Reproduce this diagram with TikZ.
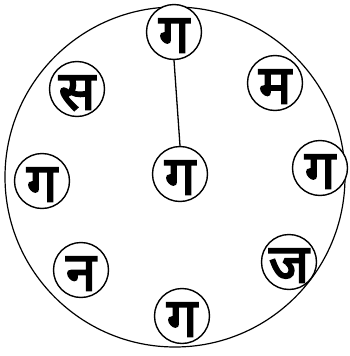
\documentclass[tikz,border=0pt]{standalone}
\usepackage{fontspec}
\newfontfamily\deva[Script=Devanagari,FakeBold=3.5]{Noto Sans}
\newcommand{\dv}[1]{\smash{\raisebox{-0.38em}{#1}}}
\tikzset{
  letter/.style={circle, draw, line width=1.4pt, minimum size=55pt, inner sep=0pt, font=\deva\fontsize{54}{54}\selectfont, fill=white},
}
\begin{document}
\begin{tikzpicture}[x=1pt,y=-1pt]
\useasboundingbox (0,0) rectangle (349,356);
\draw[line width=1.2pt] (175,177) circle (170);
\node[letter] (top) at (174,32) {\dv{ग}};
\node[letter] (tr) at (275,83) {\dv{म}};
\node[letter] (r) at (320,168) {\dv{ग}};
\node[letter] (br) at (289,262) {\dv{ज}};
\node[letter] (b) at (182,316) {\dv{ग}};
\node[letter] (bl) at (81,270) {\dv{न}};
\node[letter] (l) at (42,181) {\dv{ग}};
\node[letter] (tl) at (77,89) {\dv{स}};
\node[letter] (c) at (180,174) {\dv{ग}};
\draw[line width=1.3pt] (top.south) -- (c.north);
\end{tikzpicture}
\end{document}
